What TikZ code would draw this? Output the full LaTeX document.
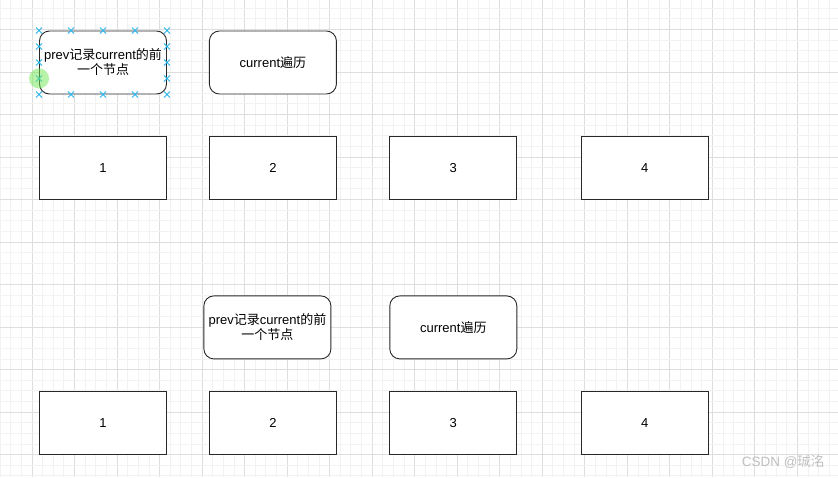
\documentclass[tikz,border=0pt]{standalone}
\usepackage{fontspec}
\setmainfont{Liberation Sans}
\newfontfamily\cjk{Noto Sans CJK SC}
\usepackage{xcolor}
\usetikzlibrary{positioning,calc}
\definecolor{gridminor}{RGB}{242,242,242}
\definecolor{gridmajor}{RGB}{222,222,222}
\definecolor{edgegray}{RGB}{40,40,40}
\definecolor{handleblue}{RGB}{41,182,242}
\definecolor{hovergreen}{RGB}{110,230,80}
\definecolor{markgray}{RGB}{190,190,190}
\tikzset{
  nbox/.style={rectangle,draw=edgegray,line width=0.9pt,fill=white,
               minimum width=127pt,minimum height=63pt,align=center,
               font=\fontsize{13}{15}\selectfont},
  rbox/.style={nbox,rounded corners=10pt},
  handle/.style={draw=handleblue,line width=0.9pt},
  gridline/.style={draw=gridminor,line width=0.6pt},
}

\begin{document}
\begin{tikzpicture}[x=1pt,y=-1pt]
  \useasboundingbox (0,0) rectangle (838,477);
  % editor grid
  \foreach \k in {0,...,78}{
    \pgfmathtruncatemacro{\m}{mod(\k,4)}
    \ifnum\m=3 \draw[gridline,draw=gridmajor] (10.63*\k,0) -- (10.63*\k,477);
    \else \draw[gridline] (10.63*\k,0) -- (10.63*\k,477); \fi
  }
  \foreach \k in {0,...,44}{
    \pgfmathtruncatemacro{\m}{mod(\k,4)}
    \ifnum\m=2 \draw[gridline,draw=gridmajor] (0,8.04+10.63*\k) -- (838,8.04+10.63*\k);
    \else \draw[gridline] (0,8.04+10.63*\k) -- (838,8.04+10.63*\k); \fi
  }

  % before
  \node[rbox] (prevA) at (103,62.5) {prev{\cjk 记录}current{\cjk 的前}\\{\cjk 一个节点}};
  \node[rbox,right=42pt of prevA] (curA) {current{\cjk 遍历}};
  \node[nbox,below=42pt of prevA] (a1) {1};
  \node[nbox,right=42pt of a1] (a2) {2};
  \node[nbox,right=52.5pt of a2] (a3) {3};
  \node[nbox,right=63.6pt of a3] (a4) {4};

  % after
  \node[nbox,below=190.6pt of a1] (b1) {1};
  \node[nbox,right=42pt of b1] (b2) {2};
  \node[nbox,right=52.5pt of b2] (b3) {3};
  \node[nbox,right=63.6pt of b3] (b4) {4};
  \node[rbox,above=31.6pt of b2,xshift=-5.5pt] (prevB) {prev{\cjk 记录}current{\cjk 的前}\\{\cjk 一个节点}};
  \node[rbox,above=31.6pt of b3] (curB) {current{\cjk 遍历}};

  % selection handles
  \foreach \f in {0,0.25,0.5,0.75,1}{
    \draw[handle] ($(prevA.north west)!\f!(prevA.north east)$) +(-3,-3) -- +(3,3) +(-3,3) -- +(3,-3);
    \draw[handle] ($(prevA.south west)!\f!(prevA.south east)$) +(-3,-3) -- +(3,3) +(-3,3) -- +(3,-3);
  }
  \foreach \f in {0.25,0.5,0.75}{
    \draw[handle] ($(prevA.north west)!\f!(prevA.south west)$) +(-3,-3) -- +(3,3) +(-3,3) -- +(3,-3);
    \draw[handle] ($(prevA.north east)!\f!(prevA.south east)$) +(-3,-3) -- +(3,3) +(-3,3) -- +(3,-3);
  }
  \fill[hovergreen,opacity=0.5] ($(prevA.north west)!0.75!(prevA.south west)$) circle (10);

  \node[text=markgray,font=\fontsize{13.5}{15}\selectfont,anchor=east] (mark) at (828,462) {CSDN @{\cjk 珹洺}};
\end{tikzpicture}
\end{document}
